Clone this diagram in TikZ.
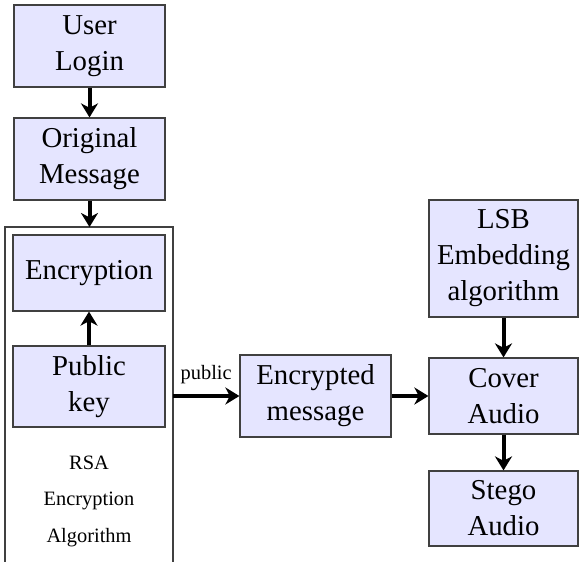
\documentclass[tikz,border=0pt]{standalone}
\usepackage{fontspec}
\setmainfont{Liberation Serif}
\usetikzlibrary{arrows.meta}

\tikzset{
  block/.style={draw=black!75, line width=0.6pt, fill=blue!10, inner sep=0pt,
    align=center, font=\fontsize{14.4}{18}\selectfont},
  flow/.style={line width=2pt, -{Stealth[length=7pt,width=8.5pt,inset=2.2pt]}},
  frame/.style={draw=black!75, line width=0.6pt},
  smalltext/.style={font=\fontsize{10.2}{18.25}\selectfont, align=center, inner sep=0pt}
}

\begin{document}
% one unit = one pixel, y grows downwards
\begin{tikzpicture}[x=0.5pt,y=-0.5pt]
  \useasboundingbox (0,0) rectangle (579,562);

  % left column
  \node[block, minimum width=75.5pt, minimum height=41pt] (login) at (89.5,46) {User\\Login};
  \node[block, minimum width=75.5pt, minimum height=41pt] (orig) at (89.5,159) {Original\\Message};

  % RSA frame, open at the bottom edge
  \draw[frame] (5,562) -- (5,227) -- (173,227) -- (173,562);
  \coordinate (rsatop) at (89.5,227);
  \coordinate (rsaright) at (173,396);

  \node[block, minimum width=76pt, minimum height=38pt] (enc) at (89,273) {Encryption};
  \node[block, minimum width=76pt, minimum height=40.5pt] (pub) at (89,386.5) {Public\\key};
  \node[smalltext] (rsa) at (89,501) {RSA\\Encryption\\Algorithm};

  % middle
  \node[block, minimum width=75.5pt, minimum height=41pt] (encm) at (315.5,396) {Encrypted\\message};

  % right column
  \node[block, minimum width=74.5pt, minimum height=58.5pt] (lsb) at (503.5,258.5) {LSB\\Embedding\\algorithm};
  \node[block, minimum width=74.5pt, minimum height=38pt] (cover) at (503.5,396) {Cover\\Audio};
  \node[block, minimum width=74.5pt, minimum height=37.5pt] (stego) at (503.5,508.5) {Stego\\Audio};

  % connectors
  \draw[flow] (login) -- (orig);
  \draw[flow] (orig) -- (rsatop);
  \draw[flow] (pub) -- (enc);
  \draw[flow] (rsaright) -- node[smalltext, above=5pt] {public} (encm.west |- rsaright);
  \draw[flow] (encm.east |- rsaright) -- (cover.west |- rsaright);
  \draw[flow] (lsb) -- (cover);
  \draw[flow] (cover) -- (stego);
\end{tikzpicture}
\end{document}
